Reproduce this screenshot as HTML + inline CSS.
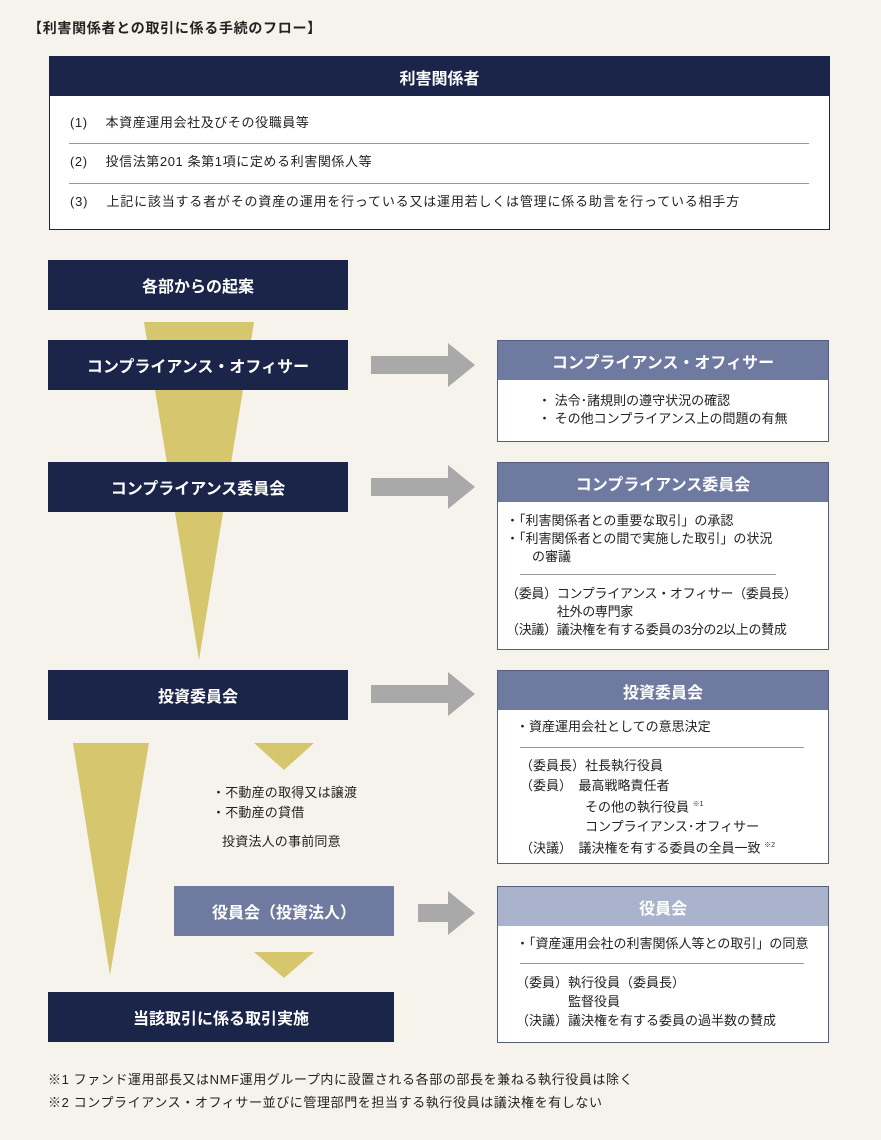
<!DOCTYPE html>
<html><head><meta charset="utf-8"><style>
body{margin:0;width:881px;height:1140px;background:#f5f3ec;position:relative;font-family:"Liberation Sans","Noto Sans CJK JP",sans-serif;color:#222;overflow:hidden}
.a{position:absolute}
.nv{background:#1b2549;color:#fff;font-weight:bold;font-size:16px;display:flex;align-items:center;justify-content:center}
.bx{position:absolute;background:#fff;border:1px solid #555e7a;box-sizing:border-box}
.hd{color:#fff;font-weight:bold;font-size:16px;display:flex;align-items:center;justify-content:center;height:39px}
.t{position:absolute;font-size:13px;letter-spacing:0.6px;line-height:18px;white-space:nowrap}
.bx .t{letter-spacing:0}
.ln{position:absolute;height:1px;background:#999}
</style></head><body>
<div class="a" style="left:28px;top:18px;font-size:14px;font-weight:bold;letter-spacing:0.7px">【利害関係者との取引に係る手続のフロー】</div>
<div class="bx" style="left:49px;top:56px;width:781px;height:174px;border-color:#1b2549">
<div class="hd" style="background:#1b2549">利害関係者</div>
<div class="t" style="left:20px;top:57px;letter-spacing:0.6px">(1)　 本資産運用会社及びその役職員等</div>
<div class="ln" style="left:19px;top:86px;width:740px"></div>
<div class="t" style="left:20px;top:96px;letter-spacing:0.6px">(2)　 投信法第201 条第1項に定める利害関係人等</div>
<div class="ln" style="left:19px;top:126px;width:740px"></div>
<div class="t" style="left:20px;top:136px;letter-spacing:0.8px">(3)　 上記に該当する者がその資産の運用を行っている又は運用若しくは管理に係る助言を行っている相手方</div>
</div>
<svg class="a" style="left:0;top:0" width="881" height="1140">
<polygon points="144,322 254,322 199,660" fill="#d6c66e"/>
<polygon points="73,743 149,743 110,975" fill="#d6c66e"/>
<polygon points="254,743 314,743 284,770" fill="#d6c66e"/>
<polygon points="254,952 314,952 284,978" fill="#d6c66e"/>
<g fill="#a9a9a9">
<polygon points="371,356 448,356 448,343 475,365 448,387 448,374 371,374"/>
<polygon points="371,478 448,478 448,465 475,487 448,509 448,496 371,496"/>
<polygon points="371,685 448,685 448,672 475,694 448,716 448,703 371,703"/>
<polygon points="418,904 448,904 448,891 475,913 448,935 448,922 418,922"/>
</g>
</svg>
<div class="a nv" style="left:48px;top:260px;width:300px;height:50px">各部からの起案</div>
<div class="a nv" style="left:48px;top:340px;width:300px;height:50px">コンプライアンス・オフィサー</div>
<div class="a nv" style="left:48px;top:462px;width:300px;height:50px">コンプライアンス委員会</div>
<div class="a nv" style="left:48px;top:670px;width:300px;height:50px">投資委員会</div>
<div class="a nv" style="left:174px;top:886px;width:220px;height:50px;background:#6e7aa0">役員会（投資法人）</div>
<div class="a nv" style="left:48px;top:992px;width:346px;height:50px">当該取引に係る取引実施</div>
<div class="t" style="left:212px;top:783px;line-height:20px;letter-spacing:0.2px">・不動産の取得又は譲渡<br>・不動産の貸借</div>
<div class="t" style="left:222px;top:833px;letter-spacing:0.2px">投資法人の事前同意</div>

<div class="bx" style="left:497px;top:340px;width:332px;height:102px">
<div class="hd" style="background:#6e7aa0">コンプライアンス・オフィサー</div>
<div class="t" style="left:40px;top:51px">・ 法令･諸規則の遵守状況の確認<br>・ その他コンプライアンス上の問題の有無</div></div>

<div class="bx" style="left:497px;top:462px;width:332px;height:188px">
<div class="hd" style="background:#6e7aa0">コンプライアンス委員会</div>
<div class="t" style="left:8px;top:49px">・「利害関係者との重要な取引」の承認<br>・「利害関係者との間で実施した取引」の状況<br>　　の審議</div>
<div class="ln" style="left:22px;top:111px;width:256px"></div>
<div class="t" style="left:8px;top:122px;letter-spacing:-0.3px">（委員）コンプライアンス・オフィサー（委員長）<br>　　　　社外の専門家<br>（決議）議決権を有する委員の3分の2以上の賛成</div></div>

<div class="bx" style="left:497px;top:670px;width:332px;height:194px">
<div class="hd" style="background:#6e7aa0">投資委員会</div>
<div class="t" style="left:18px;top:47px">・資産運用会社としての意思決定</div>
<div class="ln" style="left:22px;top:76px;width:284px"></div>
<div class="t" style="left:22px;top:85px;line-height:19.5px">（委員長）社長執行役員<br>（委員）　最高戦略責任者<br>　　　　　その他の執行役員 <sup style="font-size:7px">※1</sup><br>　　　　　コンプライアンス･オフィサー<br>（決議）　議決権を有する委員の全員一致 <sup style="font-size:7px">※2</sup></div></div>

<div class="bx" style="left:497px;top:886px;width:332px;height:157px">
<div class="hd" style="background:#aab3cc">役員会</div>
<div class="t" style="left:18px;top:48px">・「資産運用会社の利害関係人等との取引」の同意</div>
<div class="ln" style="left:22px;top:76px;width:284px"></div>
<div class="t" style="left:18px;top:86px;line-height:19px">（委員）執行役員（委員長）<br>　　　　監督役員<br>（決議）議決権を有する委員の過半数の賛成</div></div>

<div class="t" style="left:48px;top:1071px">※1 ファンド運用部長又はNMF運用グループ内に設置される各部の部長を兼ねる執行役員は除く</div>
<div class="t" style="left:48px;top:1094px">※2 コンプライアンス・オフィサー並びに管理部門を担当する執行役員は議決権を有しない</div>
</body></html>
